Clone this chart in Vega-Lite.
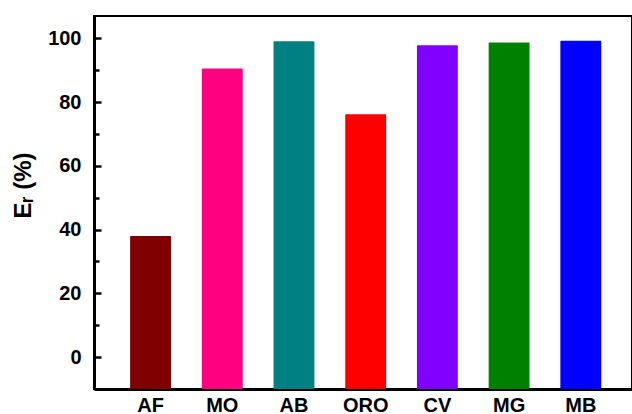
{
  "$schema": "https://vega.github.io/schema/vega-lite/v6.json",
  "autosize": "none",
  "width": 538,
  "height": 373,
  "padding": {"left": 94, "top": 16, "right": 0, "bottom": 25},
  "background": "white",
  "data": {
    "values": [
      {"dye": "AF", "Er": 38.0, "base": -10},
      {"dye": "MO", "Er": 90.5, "base": -10},
      {"dye": "AB", "Er": 99.1, "base": -10},
      {"dye": "ORO", "Er": 76.2, "base": -10},
      {"dye": "CV", "Er": 97.8, "base": -10},
      {"dye": "MG", "Er": 98.7, "base": -10},
      {"dye": "MB", "Er": 99.2, "base": -10}
    ]
  },
  "mark": {"type": "bar", "cornerRadius": 1},
  "encoding": {
    "x": {
      "field": "dye",
      "type": "nominal",
      "sort": null,
      "scale": {"paddingInner": 0.43, "paddingOuter": 0.4665, "align": 0.54},
      "axis": {
        "title": null,
        "labelAngle": 0,
        "ticks": false,
        "labelPadding": 6,
        "labelFont": "Liberation Sans",
        "labelFontWeight": "bold",
        "labelFontSize": 20,
        "labelColor": "black",
        "domainColor": "black",
        "domainWidth": 3
      }
    },
    "y": {
      "field": "Er",
      "type": "quantitative",
      "stack": null,
      "scale": {"domain": [-10, 107], "nice": false, "zero": false},
      "axis": {
        "title": "Eᵣ (%)",
        "titleFont": "Liberation Sans",
        "titleFontWeight": "bold",
        "titleFontSize": 24,
        "titleColor": "black",
        "titlePadding": 12,
        "titleY": 169,
        "values": [0, 10, 20, 30, 40, 50, 60, 70, 80, 90, 100],
        "labelExpr": "datum.value % 20 === 0 ? datum.label : ''",
        "labelFont": "Liberation Sans",
        "labelFontWeight": "bold",
        "labelFontSize": 20,
        "labelColor": "black",
        "labelPadding": 20,
        "tickSize": {"expr": "datum.value % 20 === 0 ? -7 : -5"},
        "tickWidth": 2.5,
        "tickColor": "black",
        "domainColor": "black",
        "domainWidth": 3,
        "grid": false
      }
    },
    "y2": {"field": "base"},
    "color": {
      "field": "dye",
      "type": "nominal",
      "legend": null,
      "scale": {
        "domain": ["AF", "MO", "AB", "ORO", "CV", "MG", "MB"],
        "range": ["#800000", "#FF0080", "#008080", "#FF0000", "#8000FF", "#008000", "#0000FF"]
      }
    }
  },
  "config": {
    "view": {"stroke": "black", "strokeWidth": 2}
  }
}
